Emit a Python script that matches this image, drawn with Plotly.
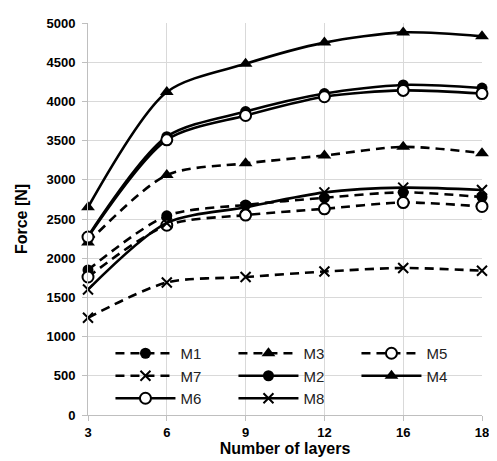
import plotly.graph_objects as go

layers = ['3', '6', '9', '12', '16', '18']
M1 = [1850, 2540, 2680, 2770, 2840, 2780]
M2 = [2280, 3550, 3870, 4100, 4210, 4170]
M3 = [2200, 3060, 3210, 3310, 3420, 3340]
M4 = [2650, 4120, 4480, 4750, 4880, 4830]
M5 = [1760, 2420, 2550, 2630, 2710, 2660]
M6 = [2270, 3510, 3820, 4060, 4140, 4100]
M7 = [1240, 1690, 1760, 1830, 1875, 1840]
M8 = [1600, 2450, 2650, 2840, 2900, 2870]
y_ticks = [0, 500, 1000, 1500, 2000, 2500, 3000, 3500, 4000, 4500, 5000]

series = [
    ('M1', M1, 'dash', 'circle'),
    ('M3', M3, 'dash', 'triangle-up'),
    ('M5', M5, 'dash', 'circle-open'),
    ('M7', M7, 'dash', 'x-thin'),
    ('M2', M2, 'solid', 'circle'),
    ('M4', M4, 'solid', 'triangle-up'),
    ('M6', M6, 'solid', 'circle-open'),
    ('M8', M8, 'solid', 'x-thin'),
]

fig = go.Figure()
for name, vals, dash, sym in series:
    if sym == 'circle-open':
        marker = dict(symbol='circle', size=11, color='white',
                      line=dict(color='black', width=2))
    elif sym == 'x-thin':
        marker = dict(symbol='x-thin', size=10, color='black',
                      line=dict(color='black', width=2))
    elif sym == 'triangle-up':
        marker = dict(symbol='triangle-up', size=12, color='black')
    else:
        marker = dict(symbol='circle', size=11, color='black')
    fig.add_trace(go.Scatter(
        x=layers, y=vals, name=name, mode='lines+markers',
        line=dict(color='black', width=2.6, dash='9px,6px' if dash == 'dash' else 'solid',
                  shape='spline', smoothing=0.8),
        marker=marker, cliponaxis=False))

fig.update_layout(
    width=489, height=453,
    margin=dict(l=80, r=8, t=12, b=45),
    plot_bgcolor='white', paper_bgcolor='white',
    font=dict(family='Liberation Sans, Arial, sans-serif', color='black'),
    showlegend=True,
    legend=dict(orientation='h', x=0.057, y=0.0, xanchor='left', yanchor='bottom',
                entrywidth=48, entrywidthmode='pixels', itemwidth=60,
                font=dict(size=15, color='#222'), bgcolor='rgba(0,0,0,0)',
                traceorder='normal', tracegroupgap=0),
)
fig.update_xaxes(
    type='category', range=[0, 5],
    showgrid=True, gridcolor='#d9d9d9', gridwidth=1,
    showline=True, linecolor='#bfbfbf', linewidth=1,
    ticks='outside', ticklen=5, tickcolor='#bfbfbf',
    tickfont=dict(size=13, weight='bold'),
    title=dict(text='Number of layers', font=dict(size=16, weight='bold'), standoff=2),
)
fig.update_yaxes(
    range=[0, 5000], tickvals=y_ticks,
    showgrid=True, gridcolor='#d9d9d9', gridwidth=1,
    showline=True, linecolor='#bfbfbf', linewidth=1,
    ticks='outside', ticklen=5, tickcolor='#bfbfbf',
    tickfont=dict(size=13, weight='bold'), ticklabelstandoff=4,
    zeroline=False,
    title=dict(text='Force [N]', font=dict(size=16, weight='bold'), standoff=14),
)

fig.write_html('out.html')
